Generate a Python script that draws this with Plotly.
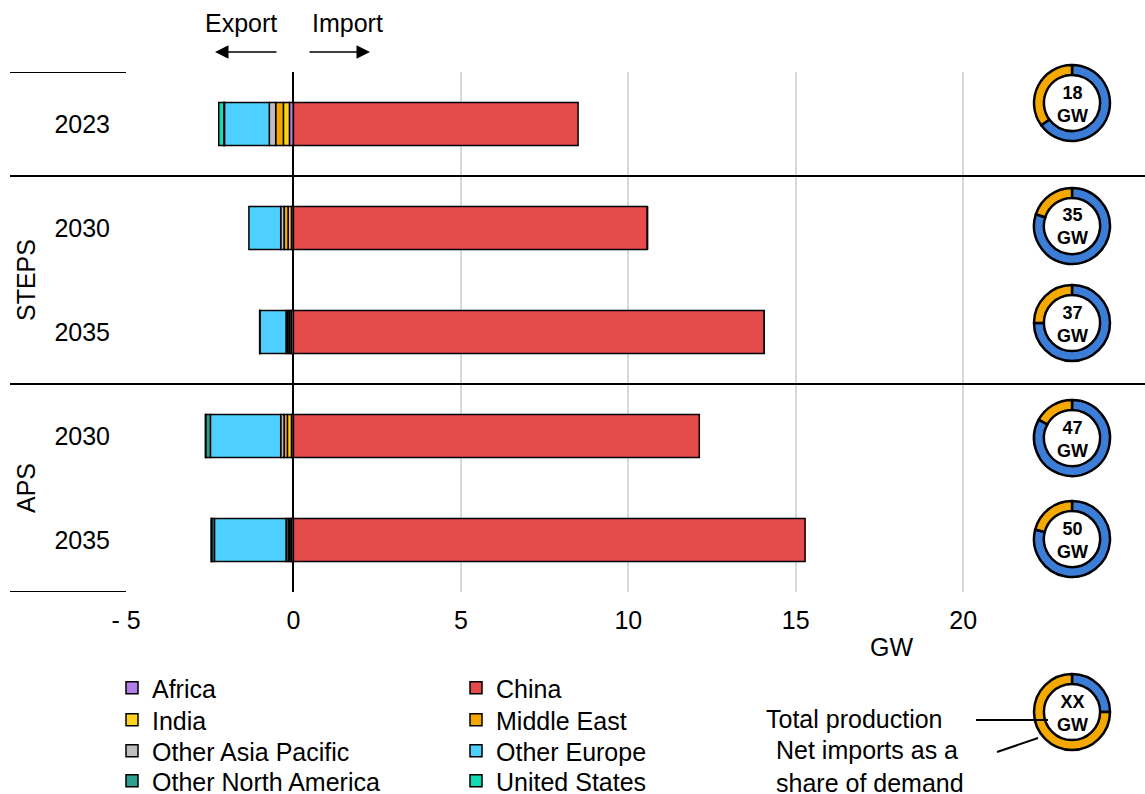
import plotly.graph_objects as go

# ---------------- data ----------------
rows = [0, 1, 2, 3, 4]
row_labels = ["2023", "2030", "2035", "2030", "2035"]
groups = ["STEPS", "APS"]

regions = ["Africa", "China", "India", "Middle East", "Other Asia Pacific",
           "Other Europe", "Other North America", "United States"]
africa = [-0.12, -0.06, -0.07, -0.06, -0.06]
china = [8.5, 10.57, 14.06, 12.12, 15.28]
india = [-0.18, -0.10, -0.05, -0.12, -0.05]
middle_east = [-0.23, -0.12, -0.05, -0.10, -0.05]
other_asia_pacific = [-0.19, -0.10, -0.05, -0.10, -0.06]
other_europe = [-1.34, -0.95, -0.78, -2.10, -2.14]
other_north_america = [-0.02, 0.0, -0.01, -0.14, -0.08]
united_states = [-0.15, 0.0, 0.0, -0.01, -0.02]
values = [africa, china, india, middle_east, other_asia_pacific,
          other_europe, other_north_america, united_states]

total_production = [18, 35, 37, 47, 50]        # GW
net_import_share = [0.35, 0.20, 0.25, 0.17, 0.21]
legend_share = 0.75

x_tickvals = [-5, 0, 5, 10, 15, 20]
x_ticktext = ["- 5", "0", "5", "10", "15", "20"]

# ---------------- style ----------------
W, H = 1145, 794
FONT = "Liberation Sans, Arial, sans-serif"
FS = 25
colors = ["#B27FE8", "#E54B4B", "#FFD21F", "#F2A600", "#BFBFBF",
          "#4DD0FF", "#2E9E8F", "#12DDB2"]
ORANGE = "#F5A800"
BLUE = "#3C7DD8"


def px(x):
    return x / W


def py(y):
    return (H - y) / H


legend_ids = ["legend", "legend", "legend2", "legend2",
              "legend3", "legend3", "legend4", "legend4"]

fig = go.Figure()
for name, vals, col, lg in zip(regions, values, colors, legend_ids):
    fig.add_trace(go.Bar(
        y=rows, x=vals, name=name, orientation="h", width=0.415,
        marker=dict(color=col, line=dict(color="black", width=1.5)),
        legend=lg, hoverinfo="x+name",
    ))

# donuts
donut_cx = 1072
donut_cy = [103, 226, 323, 438, 539]
R = 38
donut_labels = []


def add_donut(share, label, cx, cy):
    fig.add_trace(go.Pie(
        values=[1 - share, share], sort=False, direction="counterclockwise",
        rotation=0, hole=0.74, textinfo="none", hoverinfo="skip",
        marker=dict(colors=[BLUE, ORANGE], line=dict(color="black", width=2.5)),
        domain=dict(x=[px(cx - R), px(cx + R)], y=[py(cy + R), py(cy - R)]),
        showlegend=False,
    ))
    donut_labels.append(dict(
        text="<b>%s<br>GW</b>" % label, x=px(cx), y=py(cy + 1), xref="paper",
        yref="paper", xanchor="center", yanchor="middle", showarrow=False,
        font=dict(size=18, color="black", family=FONT)))


for tp, sh, cy in zip(total_production, net_import_share, donut_cy):
    add_donut(sh, str(tp), donut_cx, cy)
add_donut(legend_share, "XX", donut_cx, 712)

shapes = []
for yv in [0.5, 2.5]:
    shapes.append(dict(type="line", xref="paper", yref="y", x0=px(10), x1=1,
                       y0=yv, y1=yv, line=dict(color="black", width=2)))
for yv in [-0.5, 4.5]:
    shapes.append(dict(type="line", xref="paper", yref="y", x0=px(10), x1=px(126),
                       y0=yv, y1=yv, line=dict(color="black", width=2)))
shapes.append(dict(type="line", xref="paper", yref="paper", x0=px(976), x1=px(1048),
                   y0=py(720), y1=py(720), line=dict(color="black", width=2)))
shapes.append(dict(type="line", xref="paper", yref="paper", x0=px(997), x1=px(1038),
                   y0=py(752), y1=py(738), line=dict(color="black", width=2)))


def txt(text, x, y, **kw):
    d = dict(text=text, x=px(x), y=py(y), xref="paper", yref="paper",
             xanchor="center", yanchor="middle", showarrow=False,
             font=dict(size=FS, color="black"))
    d.update(kw)
    return d


annotations = [
    dict(text="STEPS", x=px(26), y=1.5, xref="paper", yref="y", textangle=-90,
         xanchor="center", yanchor="middle", showarrow=False, font=dict(size=FS)),
    dict(text="APS", x=px(26), y=3.5, xref="paper", yref="y", textangle=-90,
         xanchor="center", yanchor="middle", showarrow=False, font=dict(size=FS)),
    txt("GW", 891, 647),
    txt("Export", 241, 23),
    txt("Import", 347, 23),
    dict(text="", x=px(215), y=py(52), xref="paper", yref="paper",
         ax=63, ay=0, axref="pixel", ayref="pixel", showarrow=True,
         arrowhead=2, arrowsize=1.8, arrowwidth=1.5, arrowcolor="black"),
    dict(text="", x=px(370), y=py(52), xref="paper", yref="paper",
         ax=-62, ay=0, axref="pixel", ayref="pixel", showarrow=True,
         arrowhead=2, arrowsize=1.8, arrowwidth=1.5, arrowcolor="black"),
    txt("Total production", 764, 719, xanchor="left"),
    txt("Net imports as a<br>share of demand", 774, 766, xanchor="left", align="left"),
] + donut_labels

leg_common = dict(orientation="h", entrywidth=299, entrywidthmode="pixels",
                  xanchor="left", yanchor="middle", font=dict(size=FS),
                  bgcolor="rgba(0,0,0,0)", itemclick=False, itemdoubleclick=False)
leg_x = px(112)

fig.update_layout(
    width=W, height=H,
    margin=dict(l=0, r=0, t=0, b=0, autoexpand=False),
    paper_bgcolor="white", plot_bgcolor="white",
    font=dict(family=FONT, size=FS, color="black"),
    barmode="relative",
    xaxis=dict(domain=[px(126), 1], range=[-5, 25.43], tickvals=x_tickvals,
               ticktext=x_ticktext, showgrid=True, gridcolor="#D9D9D9", gridwidth=1.5,
               zeroline=True, zerolinecolor="black", zerolinewidth=2,
               showline=False, ticks="", ticklabelstandoff=11, automargin=False),
    yaxis=dict(domain=[py(592), py(72)], range=[4.5, -0.5], tickvals=rows,
               ticktext=row_labels, showgrid=False, zeroline=False, showline=False,
               ticks="", ticklabelstandoff=15, automargin=False),
    shapes=shapes,
    annotations=annotations,
    legend=dict(x=leg_x, y=py(688), **leg_common),
    legend2=dict(x=leg_x, y=py(720), **leg_common),
    legend3=dict(x=leg_x, y=py(751), **leg_common),
    legend4=dict(x=leg_x, y=py(781), **leg_common),
    showlegend=True,
)

fig.write_html(
    "out.html",
    config={"displayModeBar": False},
    post_script="document.body.style.margin='0';document.body.style.overflow='hidden';",
)
